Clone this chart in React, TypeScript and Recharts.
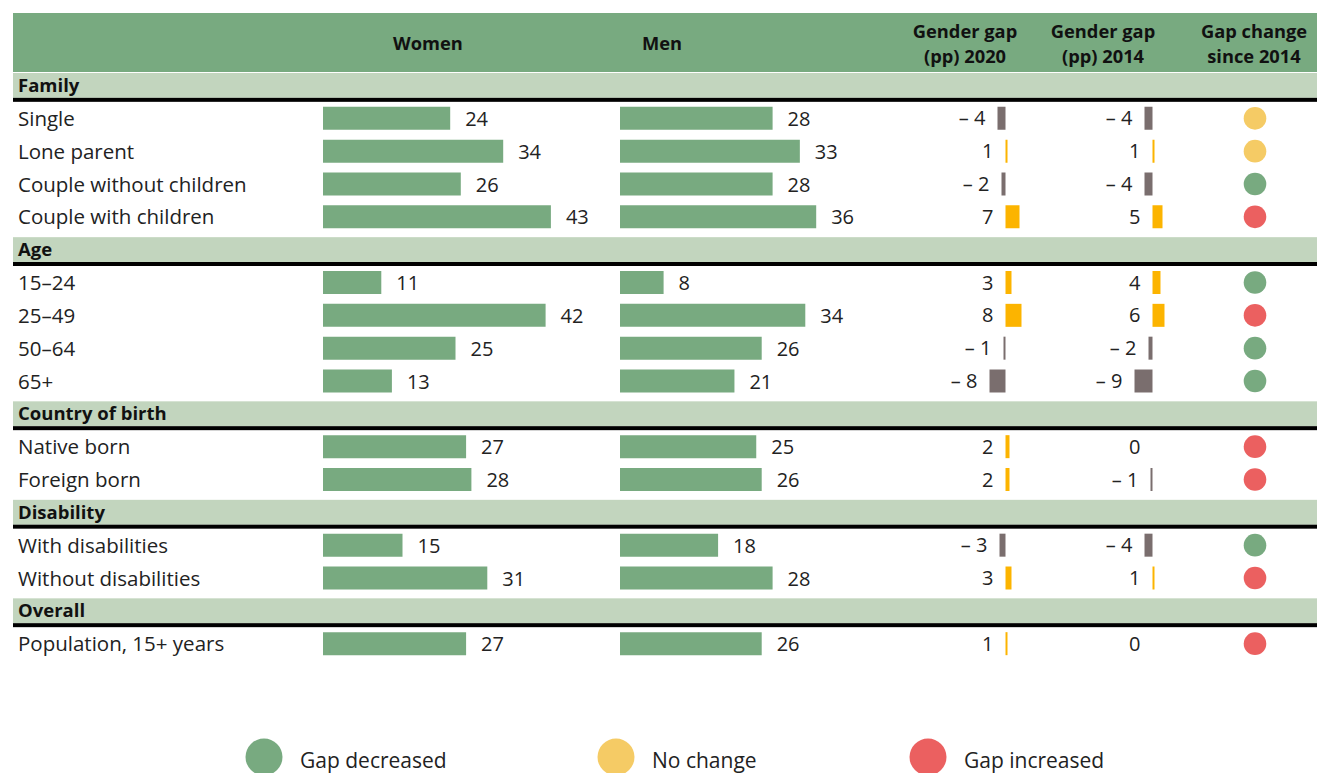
import React from 'react';
import { ComposedChart, Bar, XAxis, YAxis, ReferenceArea, LabelList, Cell } from 'recharts';

const sections = ['Family', 'Age', 'Country of birth', 'Disability', 'Overall'];
const categories = [
  'Single', 'Lone parent', 'Couple without children', 'Couple with children',
  '15–24', '25–49', '50–64', '65+',
  'Native born', 'Foreign born',
  'With disabilities', 'Without disabilities',
  'Population, 15+ years',
];
const categorySection = [0, 0, 0, 0, 1, 1, 1, 1, 2, 2, 3, 3, 4];
const women = [24, 34, 26, 43, 11, 42, 25, 13, 27, 28, 15, 31, 27];
const men = [28, 33, 28, 36, 8, 34, 26, 21, 25, 26, 18, 28, 26];
const gap2020 = [-4, 1, -2, 7, 3, 8, -1, -8, 2, 2, -3, 3, 1];
const gap2014 = [-4, 1, -4, 5, 4, 6, -2, -9, 0, -1, -4, 1, 0];
const gapChange = ['same', 'same', 'dec', 'inc', 'dec', 'inc', 'dec', 'dec', 'inc', 'inc', 'dec', 'inc', 'inc'];
const legendItems = [
  { key: 'dec', label: 'Gap decreased' },
  { key: 'same', label: 'No change' },
  { key: 'inc', label: 'Gap increased' },
];
const headers = [
  { x: 428, lines: ['Women'] },
  { x: 662, lines: ['Men'] },
  { x: 965, lines: ['Gender gap', '(pp) 2020'] },
  { x: 1103, lines: ['Gender gap', '(pp) 2014'] },
  { x: 1254, lines: ['Gap change', 'since 2014'] },
];

const FONT = "'Open Sans', sans-serif";
const HEADER_GREEN = '#78aa80';
const BAND_GREEN = '#c2d5be';
const BAR_GREEN = '#78aa80';
const NEG_GREY = '#7a6e6e';
const POS_YELLOW = '#fcb400';
const TEXT = '#222';
const changeColors: Record<string, string> = { dec: '#78aa80', same: '#f5cb65', inc: '#eb6060' };

const CHART_W = 1312;
const CHART_H = 591;

type Row = {
  label: string;
  section?: boolean;
  women?: number;
  men?: number;
  g20?: number;
  g14?: number;
  change?: string;
  marker?: number;
};

const rows: Row[] = [];
sections.forEach((s, si) => {
  rows.push({ label: s, section: true });
  categories.forEach((c, i) => {
    if (categorySection[i] !== si) return;
    rows.push({
      label: c,
      women: women[i],
      men: men[i],
      g20: gap2020[i],
      g14: gap2014[i],
      change: gapChange[i],
      marker: 1,
    });
  });
});

// domain so that value 0 lands at `zero` px and one unit is `ppu` px
const dom = (zero: number, ppu: number): [number, number] => [-zero / ppu, (CHART_W - zero) / ppu];

const gapFill = (v?: number) => (v == null || v === 0 ? 'none' : v < 0 ? NEG_GREY : POS_YELLOW);

const SectionBand = (p: any) => (
  <g>
    <rect x={p.x} y={p.y + 4} width={p.width} height={p.height - 8} fill={BAND_GREEN} />
    <rect x={p.x} y={p.y + p.height - 4} width={p.width} height={4} fill="#000" />
    <text
      x={p.x + 5}
      y={p.y + 4 + (p.height - 8) / 2}
      dy={6.5}
      fontFamily={FONT}
      fontSize={18.5}
      fontWeight={700}
      fill="#111"
    >
      {p.title}
    </text>
  </g>
);

const rowLabel = (props: any) => {
  if (props.value == null) return null;
  const vb = props.viewBox || props;
  const { y, height } = vb;
  if (y == null || isNaN(y)) return null;
  return (
    <text x={5} y={y + height / 2} dy={7.5} fontFamily={FONT} fontSize={20.5} fill={TEXT}>
      {props.value}
    </text>
  );
};

const valueLabel = (props: any) => {
  if (props.value == null) return null;
  const vb = props.viewBox || props;
  const { x, y, width, height } = vb;
  return (
    <text x={x + width + 15} y={y + height / 2} dy={7.5} fontFamily={FONT} fontSize={20} fill={TEXT}>
      {props.value}
    </text>
  );
};

const gapLabel = (props: any) => {
  const v = props.value;
  if (v == null) return null;
  const vb = props.viewBox || props;
  const { x, y, width, height } = vb;
  const left = Math.min(x, x + width);
  const txt = v < 0 ? `– ${-v}` : `${v}`;
  return (
    <text x={left - 12} y={y + height / 2} dy={7} textAnchor="end" fontFamily={FONT} fontSize={20} fill={TEXT}>
      {txt}
    </text>
  );
};

const ChangeDot = (props: any) => {
  const { x, y, width, height, payload } = props;
  if (!payload || !payload.change) return <g />;
  return <circle cx={x + width} cy={y + height / 2} r={11.3} fill={changeColors[payload.change]} />;
};

const headerText: React.CSSProperties = {
  position: 'absolute',
  transform: 'translateX(-50%)',
  textAlign: 'center',
  fontFamily: FONT,
  fontWeight: 700,
  fontSize: 18.3,
  lineHeight: '20px',
  height: 20,
  color: '#111',
  whiteSpace: 'nowrap',
};

export default function App() {
  return (
    <div
      style={{
        position: 'relative',
        margin: '-8px 0 0 -8px',
        width: 1325,
        height: 773,
        overflow: 'hidden',
        background: '#fff',
        fontFamily: FONT,
      }}
    >
      <div style={{ position: 'absolute', left: 13, top: 13, width: 1312, height: 59, background: HEADER_GREEN }} />
      {headers.map((h) =>
        h.lines.map((line, li) => {
          const center = h.lines.length === 1 ? 43 : 30.5 + li * 25;
          return (
            <div key={h.x + '-' + li} style={{ ...headerText, left: h.x, top: center - 10 }}>
              {line}
            </div>
          );
        })
      )}

      <div style={{ position: 'absolute', left: 13, top: 69 }}>
        <ComposedChart
          width={CHART_W}
          height={CHART_H}
          data={rows}
          layout="vertical"
          margin={{ top: 0, right: 0, bottom: 0, left: 0 }}
        >
          <XAxis xAxisId="w" type="number" domain={dom(310, 5.3)} allowDataOverflow hide />
          <XAxis xAxisId="m" type="number" domain={dom(607, 5.45)} allowDataOverflow hide />
          <XAxis xAxisId="g20" type="number" domain={dom(992.5, 2)} allowDataOverflow hide />
          <XAxis xAxisId="g14" type="number" domain={dom(1139.5, 2)} allowDataOverflow hide />
          <XAxis xAxisId="c" type="number" domain={dom(0, 1242)} allowDataOverflow hide />

          <YAxis yAxisId="w" type="category" dataKey="label" hide />
          <YAxis yAxisId="m" type="category" dataKey="label" hide />
          <YAxis yAxisId="g20" type="category" dataKey="label" hide />
          <YAxis yAxisId="g14" type="category" dataKey="label" hide />
          <YAxis yAxisId="c" type="category" dataKey="label" hide />

          {sections.map((s) => (
            <ReferenceArea
              key={s}
              xAxisId="w"
              yAxisId="w"
              y1={s}
              y2={s}
              ifOverflow="visible"
              shape={(p: any) => <SectionBand {...p} title={s} />}
            />
          ))}

          <Bar xAxisId="w" yAxisId="w" dataKey="women" fill={BAR_GREEN} barSize={23} isAnimationActive={false}>
            <LabelList dataKey="women" content={valueLabel} />
          </Bar>
          <Bar xAxisId="m" yAxisId="m" dataKey="men" fill={BAR_GREEN} barSize={23} isAnimationActive={false}>
            <LabelList dataKey="men" content={valueLabel} />
          </Bar>
          <Bar xAxisId="g20" yAxisId="g20" dataKey="g20" barSize={23} minPointSize={0.1} isAnimationActive={false}>
            {rows.map((r, i) => (
              <Cell key={i} fill={gapFill(r.g20)} />
            ))}
            <LabelList dataKey="g20" content={gapLabel} />
          </Bar>
          <Bar xAxisId="g14" yAxisId="g14" dataKey="g14" barSize={23} minPointSize={0.1} isAnimationActive={false}>
            {rows.map((r, i) => (
              <Cell key={i} fill={gapFill(r.g14)} />
            ))}
            <LabelList dataKey="g14" content={gapLabel} />
          </Bar>
          <Bar xAxisId="c" yAxisId="c" dataKey="marker" barSize={23} shape={ChangeDot} isAnimationActive={false}>
            <LabelList dataKey="label" content={rowLabel} />
          </Bar>
        </ComposedChart>
      </div>

      <svg style={{ position: 'absolute', left: 0, top: 700 }} width={1325} height={73}>
        {legendItems.map((item, i) => {
          const cx = [264, 616, 928][i];
          return (
            <g key={item.key}>
              <circle cx={cx} cy={57} r={18.5} fill={changeColors[item.key]} />
              <text x={cx + 36} y={68} fontFamily={FONT} fontSize={21} fill={TEXT}>
                {item.label}
              </text>
            </g>
          );
        })}
      </svg>
    </div>
  );
}
